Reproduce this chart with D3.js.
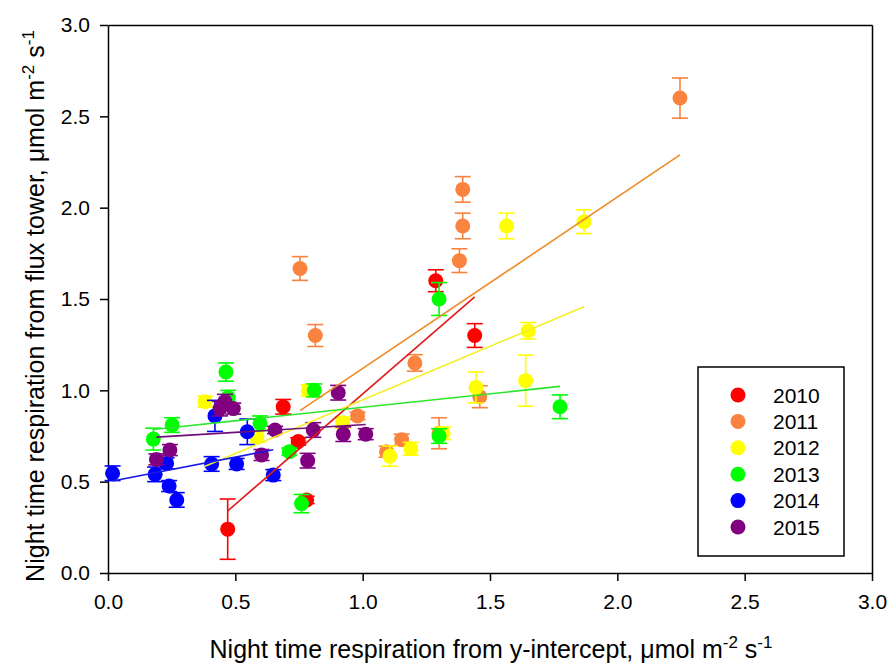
<!DOCTYPE html>
<html>
<head>
<meta charset="utf-8">
<script src="https://cdn.jsdelivr.net/npm/d3@7/dist/d3.min.js"></script>
<style>
  body { margin: 0; background: #fff; }
  svg { font-family: "Liberation Sans", Arial, sans-serif; }
  .axis path, .axis line { stroke: #000; stroke-width: 1.5; }
  .axis text { font-size: 21px; fill: #000; font-family: "Liberation Sans", Arial, sans-serif; }
</style>
</head>
<body>
<svg id="chart" width="891" height="667"></svg>
<script>
var years = ["2010", "2011", "2012", "2013", "2014", "2015"];
var colors = ["#ff0000", "#fa8340", "#ffff00", "#00ff00", "#0000ff", "#800080"];
var lineColors = ["#e01b1b", "#f08a26", "#f5ef2a", "#2ee62e", "#1a1ae6", "#6e0f78"];
var xTicks = [0.0, 0.5, 1.0, 1.5, 2.0, 2.5, 3.0];
var yTicks = [0.0, 0.5, 1.0, 1.5, 2.0, 2.5, 3.0];

// x = y-intercept respiration, y = flux tower respiration, err = +/- error bar
var x2010 = [0.47, 0.688, 0.747, 0.78, 1.287, 1.44];
var y2010 = [0.24, 0.91, 0.72, 0.40, 1.60, 1.30];
var e2010 = [0.165, 0.04, 0.02, 0.02, 0.06, 0.065];

var x2011 = [0.754, 0.814, 0.98, 1.094, 1.153, 1.205, 1.30, 1.38, 1.393, 1.393, 1.46, 2.246];
var y2011 = [1.667, 1.30, 0.86, 0.664, 0.73, 1.15, 0.765, 1.71, 1.90, 2.10, 0.965, 2.60];
var e2011 = [0.065, 0.06, 0.02, 0.03, 0.03, 0.045, 0.085, 0.065, 0.07, 0.07, 0.06, 0.11];

var x2012 = [0.381, 0.585, 0.787, 0.921, 1.107, 1.189, 1.316, 1.445, 1.565, 1.64, 1.65, 1.869];
var y2012 = [0.938, 0.745, 1.0, 0.823, 0.64, 0.68, 0.765, 1.016, 1.90, 1.053, 1.326, 1.923];
var e2012 = [0.03, 0.03, 0.03, 0.03, 0.055, 0.035, 0.035, 0.085, 0.07, 0.14, 0.045, 0.065];

var x2013 = [0.178, 0.252, 0.463, 0.472, 0.597, 0.712, 0.76, 0.81, 1.30, 1.30, 1.775];
var y2013 = [0.733, 0.81, 1.10, 0.96, 0.82, 0.664, 0.38, 1.0, 1.50, 0.75, 0.91];
var e2013 = [0.06, 0.04, 0.05, 0.04, 0.04, 0.02, 0.05, 0.035, 0.09, 0.04, 0.065];

var x2014 = [0.018, 0.185, 0.23, 0.24, 0.27, 0.407, 0.42, 0.505, 0.547, 0.649];
var y2014 = [0.546, 0.54, 0.60, 0.476, 0.40, 0.597, 0.86, 0.597, 0.773, 0.536];
var e2014 = [0.04, 0.04, 0.03, 0.03, 0.04, 0.04, 0.085, 0.03, 0.07, 0.03];

var x2015 = [0.19, 0.243, 0.44, 0.459, 0.492, 0.603, 0.656, 0.784, 0.806, 0.904, 0.924, 1.012];
var y2015 = [0.622, 0.673, 0.90, 0.938, 0.90, 0.646, 0.783, 0.615, 0.783, 0.987, 0.76, 0.76];
var e2015 = [0.03, 0.03, 0.04, 0.04, 0.03, 0.03, 0.02, 0.04, 0.04, 0.04, 0.04, 0.03];

var xs = [x2010, x2011, x2012, x2013, x2014, x2015];
var ys = [y2010, y2011, y2012, y2013, y2014, y2015];
var es = [e2010, e2011, e2012, e2013, e2014, e2015];

var series = years.map(function(yr, i) {
    return {
        year: yr,
        color: colors[i],
        lineColor: lineColors[i],
        points: xs[i].map(function(v, j) { return {x: v, y: ys[i][j], err: es[i][j]}; })
    };
});

var svg = d3.select("#chart");
var x = d3.scaleLinear().domain([0, 3]).range([108, 872]);
var y = d3.scaleLinear().domain([0, 3]).range([573, 25]);

// frame: top and right edges
svg.append("g").attr("class", "axis")
    .attr("transform", "translate(0," + y(3) + ")")
    .call(d3.axisTop(x).tickValues([]).tickSizeOuter(0));
svg.append("g").attr("class", "axis")
    .attr("transform", "translate(" + x(3) + ",0)")
    .call(d3.axisRight(y).tickValues([]).tickSizeOuter(0));

svg.append("g").attr("class", "axis")
    .attr("transform", "translate(0," + y(0) + ")")
    .call(d3.axisBottom(x).tickValues(xTicks).tickFormat(d3.format(".1f"))
        .tickSize(8).tickSizeOuter(0).tickPadding(13));
svg.append("g").attr("class", "axis")
    .attr("transform", "translate(" + x(0) + ",0)")
    .call(d3.axisLeft(y).tickValues(yTicks).tickFormat(d3.format(".1f"))
        .tickSize(8).tickSizeOuter(0).tickPadding(10));

// points with error bars
var cap = 8;
series.forEach(function(s) {
    var g = svg.append("g");
    var eb = g.selectAll(".eb").data(s.points).enter().append("g")
        .attr("stroke", s.color).attr("stroke-width", 1.6);
    eb.append("line")
        .attr("x1", function(d) { return x(d.x); }).attr("x2", function(d) { return x(d.x); })
        .attr("y1", function(d) { return y(d.y - d.err); }).attr("y2", function(d) { return y(d.y + d.err); });
    eb.append("line")
        .attr("x1", function(d) { return x(d.x) - cap; }).attr("x2", function(d) { return x(d.x) + cap; })
        .attr("y1", function(d) { return y(d.y + d.err); }).attr("y2", function(d) { return y(d.y + d.err); });
    eb.append("line")
        .attr("x1", function(d) { return x(d.x) - cap; }).attr("x2", function(d) { return x(d.x) + cap; })
        .attr("y1", function(d) { return y(d.y - d.err); }).attr("y2", function(d) { return y(d.y - d.err); });
    g.selectAll("circle").data(s.points).enter().append("circle")
        .attr("cx", function(d) { return x(d.x); })
        .attr("cy", function(d) { return y(d.y); })
        .attr("r", 7.5)
        .attr("fill", s.color);
});

// linear regression for each year over its x range
series.forEach(function(s) {
    var mx = d3.mean(s.points, function(d) { return d.x; });
    var my = d3.mean(s.points, function(d) { return d.y; });
    var sxy = d3.sum(s.points, function(d) { return (d.x - mx) * (d.y - my); });
    var sxx = d3.sum(s.points, function(d) { return (d.x - mx) * (d.x - mx); });
    var b = sxy / sxx, a = my - b * mx;
    var ext = d3.extent(s.points, function(d) { return d.x; });
    svg.append("path")
        .datum(ext.map(function(v) { return [v, a + b * v]; }))
        .attr("fill", "none")
        .attr("stroke", s.lineColor)
        .attr("stroke-width", 1.6)
        .attr("d", d3.line().x(function(d) { return x(d[0]); }).y(function(d) { return y(d[1]); }));
});

// legend
var legend = svg.append("g");
legend.append("rect")
    .attr("x", 698).attr("y", 367).attr("width", 146).attr("height", 189)
    .attr("fill", "#fff").attr("stroke", "#000").attr("stroke-width", 1.5);
series.forEach(function(s, i) {
    var ly = 395 + i * 26.4;
    legend.append("circle").attr("cx", 738).attr("cy", ly).attr("r", 7.5).attr("fill", s.color);
    legend.append("text").attr("x", 773).attr("y", ly + 7.5)
        .attr("font-size", 21).text(s.year);
});

// axis titles
var xt = svg.append("text")
    .attr("x", 491).attr("y", 658)
    .attr("text-anchor", "middle").attr("font-size", 25);
xt.append("tspan").text("Night time respiration from y-intercept, \u03bcmol m");
xt.append("tspan").attr("dy", -10).attr("font-size", 17).text("-2");
xt.append("tspan").attr("dy", 10).text(" s");
xt.append("tspan").attr("dy", -10).attr("font-size", 17).text("-1");

var yt = svg.append("text")
    .attr("transform", "translate(44," + 306 + ") rotate(-90)")
    .attr("text-anchor", "middle").attr("font-size", 25);
yt.append("tspan").text("Night time respiration from flux tower, \u03bcmol m");
yt.append("tspan").attr("dy", -10).attr("font-size", 17).text("-2");
yt.append("tspan").attr("dy", 10).text(" s");
yt.append("tspan").attr("dy", -10).attr("font-size", 17).text("-1");
</script>
</body>
</html>
